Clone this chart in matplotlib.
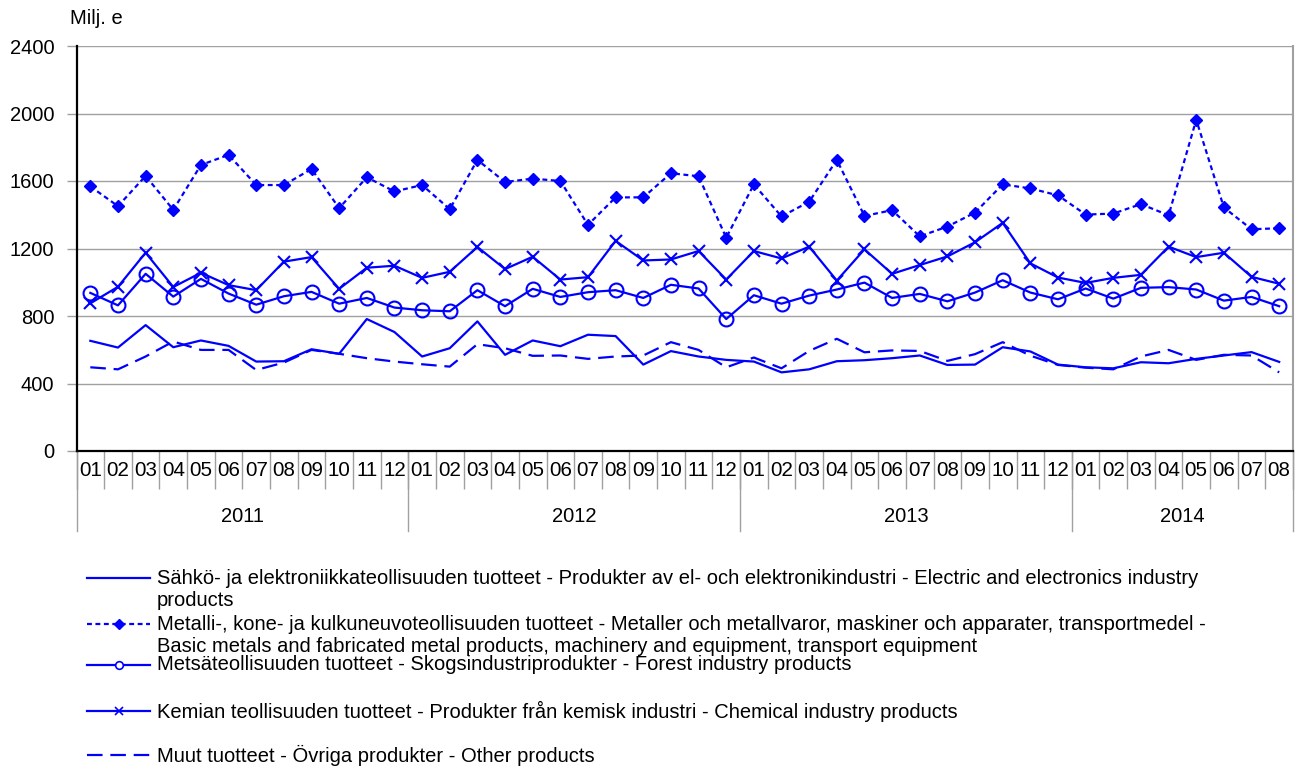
import matplotlib
matplotlib.use("Agg")
import matplotlib.pyplot as plt
from matplotlib.lines import Line2D
import matplotlib.transforms as mtransforms

plt.rcParams['font.family'] = ['Liberation Sans', 'DejaVu Sans']

months = ["01","02","03","04","05","06","07","08","09","10","11","12"] * 3 + ["01","02","03","04","05","06","07","08"]
years = ["2011", "2012", "2013", "2014"]
year_lengths = [12, 12, 12, 8]

electric = [653,613,746,615,655,623,530,532,603,576,782,705,
            560,609,768,570,655,621,689,681,512,592,560,540,
            530,466,484,532,538,550,566,510,512,615,590,512,
            496,490,526,520,546,566,586,528]
metal = [1568,1451,1630,1429,1695,1755,1576,1576,1671,1439,1622,1538,
         1576,1433,1725,1594,1614,1600,1340,1503,1503,1646,1628,1264,
         1580,1390,1477,1725,1393,1427,1272,1330,1413,1580,1556,1515,
         1401,1407,1463,1397,1963,1443,1314,1320]
forest = [937,863,1050,915,1020,933,867,917,943,873,907,850,
          834,828,953,858,961,913,941,953,907,985,963,782,
          923,873,921,957,998,907,931,887,939,1012,939,899,
          963,903,967,971,957,891,913,858]
chemical = [875,973,1175,972,1056,983,953,1122,1149,961,1086,1098,
            1026,1062,1209,1078,1151,1016,1030,1245,1129,1135,1185,1016,
            1185,1141,1211,1010,1195,1050,1102,1153,1237,1352,1112,1028,
            996,1026,1044,1211,1149,1175,1032,991]
other = [496,484,560,649,599,599,480,524,599,576,550,530,
         514,500,633,609,564,566,546,560,566,645,599,496,
         554,490,593,665,585,596,593,534,574,645,565,510,
         494,484,560,599,540,570,566,466]

labels = [
    ["Sähkö- ja elektroniikkateollisuuden tuotteet - Produkter av el- och elektronikindustri - Electric and electronics industry",
     "products"],
    ["Metalli-, kone- ja kulkuneuvoteollisuuden tuotteet - Metaller och metallvaror, maskiner och apparater, transportmedel -",
     "Basic metals and fabricated metal products, machinery and equipment, transport equipment"],
    ["Metsäteollisuuden tuotteet - Skogsindustriprodukter - Forest industry products"],
    ["Kemian teollisuuden tuotteet - Produkter från kemisk industri - Chemical industry products"],
    ["Muut tuotteet - Övriga produkter - Other products"],
]

BLUE = "#0000FF"
GRID = "#A0A0A0"
W, H = 1306, 767
fig = plt.figure(figsize=(W/100, H/100), dpi=100)
ax = fig.add_axes([76.5/W, 1-451/H, (1293-76.5)/W, (451-46)/H])

x = list(range(len(electric)))
lw = 1.6
styles = [
    dict(ls='-', marker=None),
    dict(ls=(0, (2.2, 1.6)), marker='D', ms=6.3, mfc=BLUE, mec=BLUE),
    dict(ls='-', marker='o', ms=10, mfc='none', mec=BLUE, mew=1.5),
    dict(ls='-', marker='x', ms=8.5, mec=BLUE, mew=1.5),
    dict(ls=(0, (7, 3.5)), marker=None),
]
series = [electric, metal, forest, chemical, other]
for s, st in zip(series, styles):
    ax.plot(x, s, color=BLUE, lw=lw, clip_on=False, zorder=3, **st)

ax.set_xlim(-0.5, len(x) - 0.5)
ax.set_ylim(0, 2400)
ax.set_yticks(range(0, 2401, 400))
ax.tick_params(axis='y', length=7, width=1, color=GRID, pad=9, labelsize=14.5)
ax.yaxis.grid(True, color=GRID, lw=1)
ax.set_axisbelow(True)

ax.set_xticks(x)
ax.set_xticklabels(months, fontsize=14.8)
ax.tick_params(axis='x', length=0, pad=7)
ax.set_xticks([i - 0.5 for i in range(len(x) + 1)], minor=True)
ax.tick_params(axis='x', which='minor', length=27, width=1, color=GRID)

ax.spines['top'].set_visible(False)
ax.spines['left'].set_color('black')
ax.spines['left'].set_linewidth(1.6)
ax.spines['bottom'].set_color('black')
ax.spines['bottom'].set_linewidth(1.6)
ax.spines['right'].set_color(GRID)
ax.spines['right'].set_linewidth(1.5)

trans = mtransforms.blended_transform_factory(ax.transData, ax.transAxes)
start = 0
bounds = [-0.5]
for yl, n in zip(years, year_lengths):
    mid = start + (n - 1) / 2
    ax.text(mid, (451-517)/405, yl, transform=trans, ha='center', va='center', fontsize=14.5)
    start += n
    bounds.append(start - 0.5)
for b in bounds:
    ax.add_line(Line2D([b, b], [0, (451-531)/405], transform=trans, color=GRID, lw=1, clip_on=False))

fig.text(70/W, 1-18/H, "Milj. e", fontsize=14.5, ha='left', va='center')

# legend
item_y = [578, 624, 665, 711, 755]
leg_styles = [
    dict(ls='-', marker=None),
    dict(ls=(0, (2.2, 1.6)), marker='D', ms=5, mfc=BLUE, mec=BLUE),
    dict(ls='-', marker='o', ms=5.5, mfc='white', mec=BLUE, mew=1.2),
    dict(ls='-', marker='x', ms=5.5, mec=BLUE, mew=1.2),
    dict(ls=(0, (7, 3.5)), marker=None),
]
for yy, lab, st in zip(item_y, labels, leg_styles):
    fy = 1 - yy / H
    mk = st.pop('marker')
    msd = {k: st.pop(k) for k in ['ms', 'mfc', 'mec', 'mew'] if k in st}
    fig.add_artist(Line2D([87/W, 150/W], [fy, fy], transform=fig.transFigure, color=BLUE, lw=lw, **st))
    if mk:
        fig.add_artist(Line2D([118.5/W], [fy], transform=fig.transFigure, color=BLUE, marker=mk, ls='none', **msd))
    for k, line in enumerate(lab):
        fig.text(157/W, 1 - (yy + 23*k)/H, line, fontsize=14.5, ha='left', va='center')

fig.savefig("out.png", dpi=100)
